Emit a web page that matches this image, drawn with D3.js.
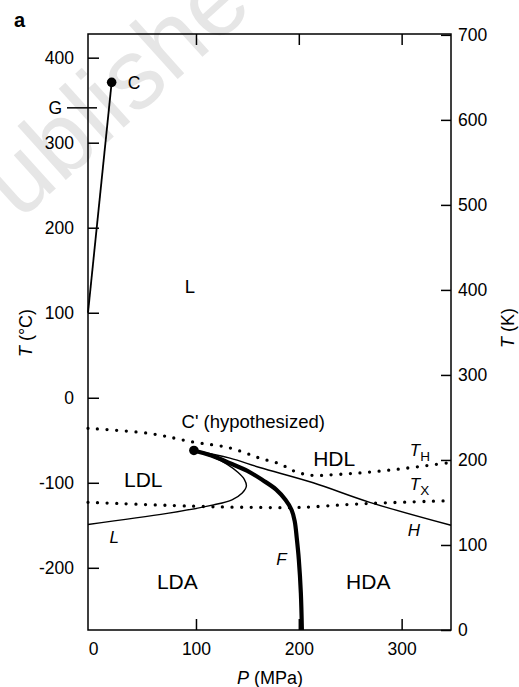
<!DOCTYPE html>
<html>
<head>
<meta charset="utf-8">
<script src="https://cdn.jsdelivr.net/npm/d3@7"></script>
<style>
  body { margin: 0; background: #fff; }
  svg { display: block; font-family: "Liberation Sans", Arial, sans-serif; }
</style>
</head>
<body>
<script>
// P in MPa, T in degC
const vaporLine = [[-5, 100], [18, 371]];
const pointC = [18, 371];
const pointC2 = [98, -62];
const tempG = 341;

const lineTH = [[-5, -36], [55, -42], [97, -52], [133, -59], [162, -71], [182, -78], [195, -86], [211, -91], [240, -90], [289, -85], [348, -76]];
const lineTX = [[-5, -123], [110, -128], [162, -129], [201, -129], [256, -125], [348, -121]];
const lineL = [[-5, -149], [72, -136], [117, -126], [135, -120], [145, -112], [149, -104], [147, -96], [141, -88], [130, -78], [115, -69], [98, -62]];
const lineH = [[98, -62], [133, -71], [162, -82], [214, -100], [269, -123], [348, -150]];
const lineF = [[98, -62], [115, -68], [133, -77], [150, -86], [165, -97], [178, -108], [187, -120], [193, -132], [196, -145], [198, -165], [200, -190], [202, -230], [203, -273.15]];

const ticksP = [0, 100, 200, 300];
const ticksC = [-200, -100, 0, 100, 200, 300, 400];
const ticksK = [0, 100, 200, 300, 400, 500, 600, 700];

// region labels [text, P, T]
const regionLabels = [['L', 89, 123], ['LDL', 30, -105], ['HDL', 214, -80], ['LDA', 62, -225], ['HDA', 246, -225]];
const curveLabels = [['L', 16, -171], ['F', 178, -197], ['H', 306, -163]];

const width = 519, height = 687;
const svg = d3.select('body').append('svg').attr('width', width).attr('height', height);

const x = d3.scaleLinear().domain([-5, 348]).range([88, 451]);
const yK = d3.scaleLinear().domain([0, 701]).range([630, 34]);
const yC = d3.scaleLinear().domain([-273.15, 427.85]).range([630, 34]);

// watermark
svg.append('text')
  .attr('transform', 'translate(-30,266) rotate(-42)')
  .attr('font-size', 100)
  .attr('fill', '#e6e6e6')
  .text('Published');

const line = d3.line().x(d => x(d[0])).y(d => yC(d[1])).curve(d3.curveCatmullRom.alpha(0.5));

// dotted lines
svg.selectAll('.dotted')
  .data([lineTH, lineTX])
  .enter()
    .append('path')
    .attr('class', 'dotted')
    .attr('d', line)
    .attr('fill', 'none')
    .attr('stroke', '#000')
    .attr('stroke-width', 3.3)
    .attr('stroke-linecap', 'round')
    .attr('stroke-dasharray', '0,9.6')

svg.selectAll('.thin')
  .data([lineL, lineH])
  .enter()
    .append('path')
    .attr('class', 'thin')
    .attr('d', line)
    .attr('fill', 'none')
    .attr('stroke', '#000')
    .attr('stroke-width', 1.4)

svg.append('path')
  .attr('d', line(lineF))
  .attr('fill', 'none')
  .attr('stroke', '#000')
  .attr('stroke-width', 4.2)

svg.append('path')
  .attr('d', d3.line().x(d => x(d[0])).y(d => yC(d[1]))(vaporLine))
  .attr('fill', 'none')
  .attr('stroke', '#000')
  .attr('stroke-width', 1.8)

svg.selectAll('.crit')
  .data([pointC, pointC2])
  .enter()
    .append('circle')
    .attr('cx', d => x(d[0]))
    .attr('cy', d => yC(d[1]))
    .attr('r', 4.8)
    .attr('fill', '#000')

// frame
svg.append('rect')
  .attr('x', 88).attr('y', 34)
  .attr('width', 451 - 88).attr('height', 630 - 34)
  .attr('fill', 'none').attr('stroke', '#000').attr('stroke-width', 1.5)

function styleAxis(g) {
  g.select('.domain').remove();
  g.selectAll('line').attr('stroke-width', 1.5);
  g.selectAll('text').attr('font-size', 17.5).attr('font-family', null).attr('fill', '#000');
}

svg.append('g').attr('transform', 'translate(88,0)')
  .call(d3.axisLeft(yC).tickValues(ticksC).tickFormat(d => String(d)).tickSizeInner(-11).tickSizeOuter(0).tickPadding(14))
  .call(styleAxis);

svg.append('g').attr('transform', 'translate(451,0)')
  .call(d3.axisRight(yK).tickValues(ticksK).tickFormat(d => String(d)).tickSizeInner(-10).tickSizeOuter(0).tickPadding(7))
  .call(styleAxis);

const bottomAxis = svg.append('g').attr('transform', 'translate(0,630)')
  .call(d3.axisBottom(x).tickValues(ticksP).tickFormat(d => String(d)).tickSizeInner(-11).tickSizeOuter(0).tickPadding(13))
  .call(styleAxis);
bottomAxis.selectAll('.tick').filter(d => d === 0).select('line').remove();

svg.append('g').attr('transform', 'translate(0,34)')
  .call(d3.axisTop(x).tickValues([100, 200, 300]).tickFormat('').tickSizeInner(-11).tickSizeOuter(0))
  .call(styleAxis);

// G marker
svg.append('line')
  .attr('x1', 67).attr('x2', 97)
  .attr('y1', yC(tempG)).attr('y2', yC(tempG))
  .attr('stroke', '#000').attr('stroke-width', 1.5)
svg.append('text')
  .attr('x', 62).attr('y', yC(tempG)).attr('dy', '0.36em')
  .attr('text-anchor', 'end').attr('font-size', 17.5)
  .text('G')

svg.append('text')
  .attr('x', x(pointC[0]) + 16).attr('y', yC(pointC[1])).attr('dy', '0.36em')
  .attr('font-size', 17.5)
  .text('C')

svg.append('text')
  .attr('x', x(86)).attr('y', yC(-35))
  .attr('font-size', 18.5)
  .text("C' (hypothesized)")

svg.selectAll('.region')
  .data(regionLabels)
  .enter()
    .append('text')
    .attr('x', d => x(d[1]))
    .attr('y', d => yC(d[2]))
    .attr('font-size', d => d[0] === 'L' ? 18.5 : 21)
    .text(d => d[0])

svg.selectAll('.curvelab')
  .data(curveLabels)
  .enter()
    .append('text')
    .attr('x', d => x(d[1]))
    .attr('y', d => yC(d[2]))
    .attr('font-size', 17)
    .attr('font-style', 'italic')
    .text(d => d[0])

function subLabel(main, sub, p, t) {
  const txt = svg.append('text').attr('x', x(p)).attr('y', yC(t)).attr('font-size', 17);
  txt.append('tspan').attr('font-style', 'italic').text(main);
  txt.append('tspan').attr('font-size', 13.5).attr('dy', 5).text(sub);
}
subLabel('T', 'H', 308, -68.5);
subLabel('T', 'X', 308, -108.5);

// axis titles
const px = svg.append('text').attr('x', 270).attr('y', 684).attr('text-anchor', 'middle').attr('font-size', 18);
px.append('tspan').attr('font-style', 'italic').text('P');
px.append('tspan').text(' (MPa)');

const tc = svg.append('text').attr('transform', 'translate(31.5,333) rotate(-90)').attr('text-anchor', 'middle').attr('font-size', 18);
tc.append('tspan').attr('font-style', 'italic').text('T');
tc.append('tspan').text(' (°C)');

const tk = svg.append('text').attr('transform', 'translate(514,328) rotate(-90)').attr('text-anchor', 'middle').attr('font-size', 18);
tk.append('tspan').attr('font-style', 'italic').text('T');
tk.append('tspan').text(' (K)');

svg.append('text')
  .attr('x', 14).attr('y', 26.7)
  .attr('font-size', 20).attr('font-weight', 'bold')
  .text('a')
</script>
</body>
</html>
